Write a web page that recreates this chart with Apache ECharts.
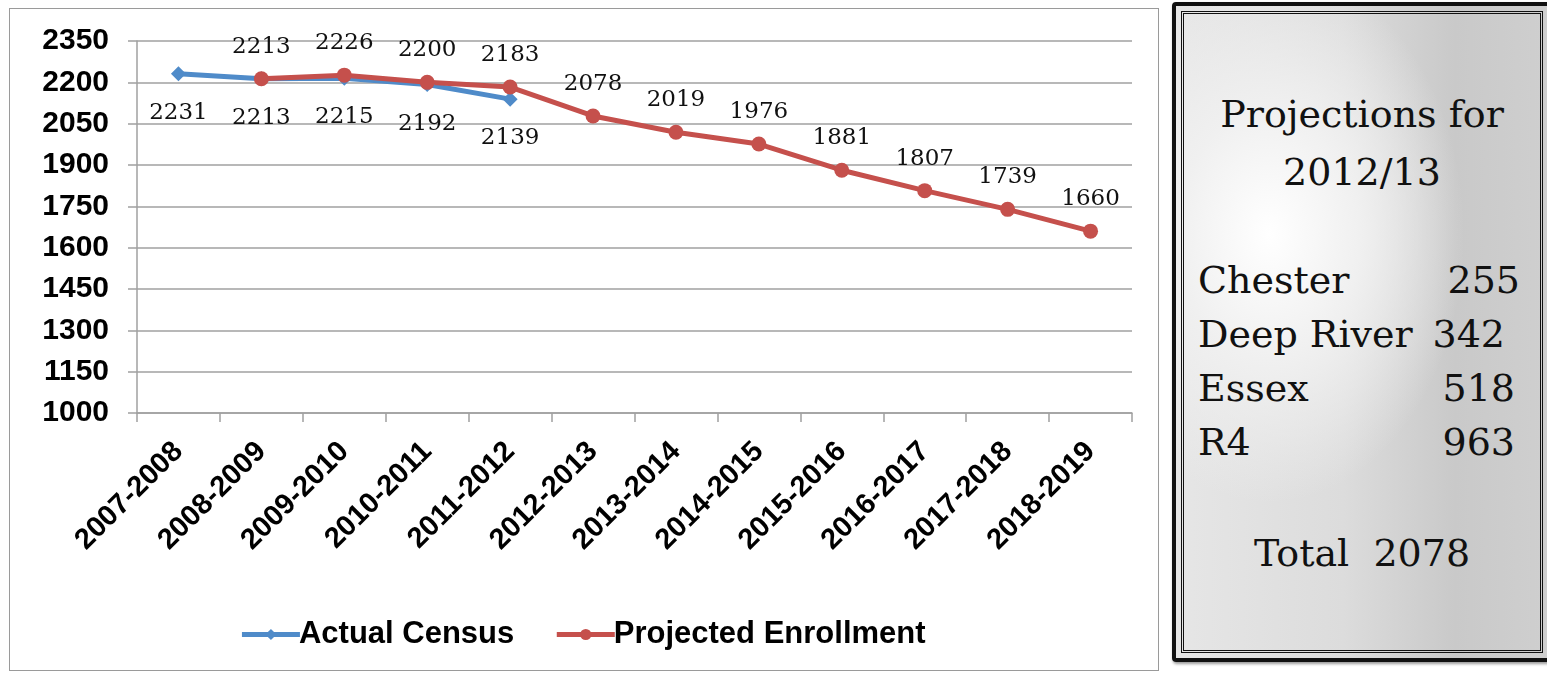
<!DOCTYPE html>
<html>
<head>
<meta charset="utf-8">
<script src="https://cdn.jsdelivr.net/npm/echarts@6/dist/echarts.min.js"></script>
<style>
  body { margin: 0; background: #fff; width: 1547px; height: 675px; overflow: hidden; position: relative; }
  .chart-box { position: absolute; left: 9px; top: 8px; width: 1150px; height: 663px; border: 1px solid #9a9a9a; box-sizing: border-box; }
  #chart { position: absolute; left: 0; top: 0; width: 1165px; height: 675px; }
  .panel { position: absolute; left: 1172px; top: 2px; width: 380px; height: 660px; box-sizing: border-box;
    border: 4px solid #111; border-radius: 4px; box-shadow: 1px 2px 3px rgba(0,0,0,.4);
    background: radial-gradient(ellipse 70% 55% at 25% 35%, #ffffff 0%, #f0f0f0 35%, rgba(220,220,220,0) 75%),
                linear-gradient(90deg, #e6e6e6 0%, #dcdcdc 45%, #c9c9c9 75%, #cfcfcf 100%); }
  .panel-inner { position: absolute; left: 5px; top: 5px; right: 5px; bottom: 5px; border: 3px double #111; }
  .ptxt { position: absolute; font-family: 'DejaVu Serif', 'Liberation Serif', serif; font-size: 38px; color: #111; white-space: pre; }
</style>
</head>
<body>
<div class="chart-box"></div>
<div id="chart"></div>
<div class="panel" id="panel"><div class="panel-inner"></div></div>
<script>
const categories = ['2007-2008', '2008-2009', '2009-2010', '2010-2011', '2011-2012', '2012-2013',
  '2013-2014', '2014-2015', '2015-2016', '2016-2017', '2017-2018', '2018-2019']
const actualCensus = [2231, 2213, 2215, 2192, 2139, null, null, null, null, null, null, null]
const projectedEnrollment = [null, 2213, 2226, 2200, 2183, 2078, 2019, 1976, 1881, 1807, 1739, 1660]
const yTicks = [1000, 1150, 1300, 1450, 1600, 1750, 1900, 2050, 2200, 2350]

const panelTitle = ['Projections for', '2012/13']
const towns = ['Chester', 'Deep River', 'Essex', 'R4']
const townValues = [255, 342, 518, 963]
const totalValue = 2078

// right side panel text
const panel = document.getElementById('panel')
const addText = (txt, css) => {
  const s = document.createElement('span')
  s.className = 'ptxt'
  s.textContent = txt
  Object.assign(s.style, css)
  panel.appendChild(s)
}
addText(panelTitle[0], { left: '0', width: '372px', textAlign: 'center', top: '86px' })
addText(panelTitle[1], { left: '0', width: '372px', textAlign: 'center', top: '144px' })
const valueRight = [28, 43, 33, 33]
towns.forEach((t, i) => {
  addText(t, { left: '22px', top: (252 + i * 54) + 'px' })
  addText(String(townValues[i]), { right: valueRight[i] + 'px', top: (252 + i * 54) + 'px' })
})
addText('Total  ' + totalValue, { left: '0', width: '372px', textAlign: 'center', top: '525px' })

const chart = echarts.init(document.getElementById('chart'))
const labelFont = { fontFamily: 'DejaVu Serif', fontSize: 23, color: '#111' }
chart.setOption({
  animation: false,
  grid: { left: 137, right: 33, top: 41, bottom: 262 },
  legend: {
    bottom: 20,
    left: 'center',
    itemWidth: 58,
    itemHeight: 14,
    itemGap: 40,
    textStyle: { fontFamily: 'Liberation Sans', fontWeight: 'bold', fontSize: 31, color: '#000', padding: [0, 0, 0, -6] },
    data: [
      { name: 'Actual Census', lineStyle: { width: 5 } },
      { name: 'Projected Enrollment', lineStyle: { width: 5 } }
    ]
  },
  xAxis: {
    type: 'category',
    data: categories,
    boundaryGap: true,
    axisLine: { lineStyle: { color: '#a0a0a0', width: 1.5 } },
    axisTick: { show: true, length: 9, lineStyle: { color: '#a0a0a0', width: 1.5 } },
    axisLabel: {
      interval: 0, rotate: 45, margin: 34,
      fontFamily: 'Liberation Sans', fontWeight: 'bold', fontSize: 29, color: '#000'
    }
  },
  yAxis: {
    type: 'value',
    min: yTicks[0],
    max: yTicks[yTicks.length - 1],
    interval: 150,
    axisLine: { show: true, lineStyle: { color: '#a0a0a0', width: 1.5 } },
    axisTick: { show: true, length: 9, lineStyle: { color: '#a0a0a0', width: 1.5 } },
    splitLine: { lineStyle: { color: '#a0a0a0', width: 1.5 } },
    axisLabel: {
      margin: 28, fontFamily: 'Liberation Sans', fontWeight: 'bold', fontSize: 30, color: '#000',
      formatter: v => String(v)
    }
  },
  series: [
    {
      name: 'Actual Census',
      type: 'line',
      data: actualCensus,
      color: '#4f8bc9',
      lineStyle: { width: 5 },
      symbol: 'diamond',
      symbolSize: 15,
      label: { show: true, position: 'bottom', distance: 20, ...labelFont }
    },
    {
      name: 'Projected Enrollment',
      type: 'line',
      data: projectedEnrollment,
      color: '#c5504c',
      lineStyle: { width: 5 },
      symbol: 'circle',
      symbolSize: 15,
      label: { show: true, position: 'top', distance: 13, ...labelFont }
    }
  ]
})
</script>
</body>
</html>
